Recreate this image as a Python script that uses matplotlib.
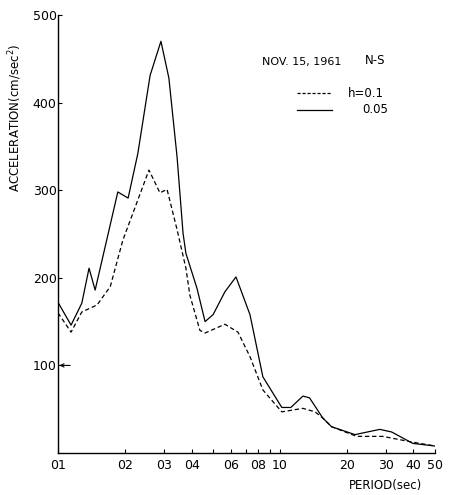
import matplotlib
matplotlib.use("Agg")
import matplotlib.pyplot as plt
from matplotlib.lines import Line2D
from matplotlib.ticker import FixedLocator, NullLocator

# acceleration response spectra, NOV. 15, 1961, N-S component
period_h01 = [0.1, 0.1145, 0.128, 0.15, 0.172, 0.196, 0.257, 0.288, 0.31, 0.344,
              0.377, 0.393, 0.436, 0.46, 0.565, 0.647, 0.733, 0.838, 1.02, 1.27,
              1.44, 1.56, 1.71, 2.22, 2.91, 3.85, 5.0]
accel_h01 = [160, 138, 161, 169, 190, 243, 323, 297, 301, 255,
             211, 180, 140, 137, 147, 138, 110, 72, 47, 51,
             47, 40, 30, 19, 19, 13, 8]

period_h005 = [0.1, 0.1145, 0.128, 0.138, 0.147, 0.186, 0.207, 0.229, 0.26, 0.291,
               0.316, 0.344, 0.366, 0.377, 0.423, 0.46, 0.5, 0.565, 0.634, 0.733,
               0.838, 1.02, 1.12, 1.27, 1.36, 1.56, 1.71, 2.18, 2.82, 3.19,
               3.97, 5.0]
accel_h005 = [172, 146, 171, 211, 186, 298, 291, 342, 431, 470,
              428, 338, 251, 228, 188, 150, 158, 184, 201, 158,
              87, 52, 52, 65, 63, 40, 30, 21, 27, 24,
              11, 8]

x_ticks = [0.1, 0.2, 0.3, 0.4, 0.5, 0.6, 0.7, 0.8, 0.9, 1.0, 2.0, 3.0, 4.0, 5.0]
x_labels = {0.1: "01", 0.2: "02", 0.3: "03", 0.4: "04", 0.6: "06", 0.8: "08",
            1.0: "10", 2.0: "20", 3.0: "30", 4.0: "40", 5.0: "50"}
y_ticks = [100, 200, 300, 400, 500]

fig = plt.figure(figsize=(4.49, 4.95), dpi=100)
ax = fig.add_axes([0.1292, 0.0848, 0.8396, 0.8849])

ax.plot(period_h01, accel_h01, color="black", lw=0.9, linestyle=(0, (3.5, 2.2)))
ax.plot(period_h005, accel_h005, color="black", lw=0.9)

ax.set_xscale("log")
ax.set_xlim(0.1, 5.0)
ax.set_ylim(0, 500)

ax.xaxis.set_major_locator(FixedLocator(x_ticks))
ax.xaxis.set_minor_locator(NullLocator())
ax.set_xticklabels([x_labels.get(t, "") for t in x_ticks])
ax.set_yticks(y_ticks)
ax.set_yticklabels([str(v) for v in y_ticks])

ax.tick_params(axis="both", direction="in", length=3, width=0.8, labelsize=9)
ax.tick_params(axis="x", pad=4)
ax.tick_params(axis="y", pad=1)

for side in ("top", "right"):
    ax.spines[side].set_visible(False)
for side in ("left", "bottom"):
    ax.spines[side].set_linewidth(1.0)

ax.set_ylabel("ACCELERATION(cm/sec$^2$)", fontsize=8.5, labelpad=6)
ax.yaxis.set_label_coords(-0.09, 0.765)
fig.text(0.858, 0.02, "PERIOD(sec)", fontsize=8.5, ha="center", va="center")

# arrow marking the 100 level
ax.annotate("", xy=(0.1015, 100), xytext=(0.1135, 100),
            arrowprops=dict(arrowstyle="->", lw=0.8, color="black",
                            shrinkA=0, shrinkB=0, mutation_scale=6))

# title and key
fig.text(0.583, 0.874, "NOV. 15, 1961", fontsize=8, ha="left", va="center")
fig.text(0.813, 0.878, "N-S", fontsize=8.5, ha="left", va="center")

fig.add_artist(Line2D([0.661, 0.740], [0.812, 0.812], color="black", lw=0.9,
                      linestyle=(0, (2.5, 1.5)), transform=fig.transFigure))
fig.add_artist(Line2D([0.661, 0.740], [0.778, 0.778], color="black", lw=0.9,
                      transform=fig.transFigure))
fig.text(0.775, 0.812, "h=0.1", fontsize=8.5, ha="left", va="center")
fig.text(0.806, 0.778, "0.05", fontsize=8.5, ha="left", va="center")

fig.savefig("out.png", dpi=100)
